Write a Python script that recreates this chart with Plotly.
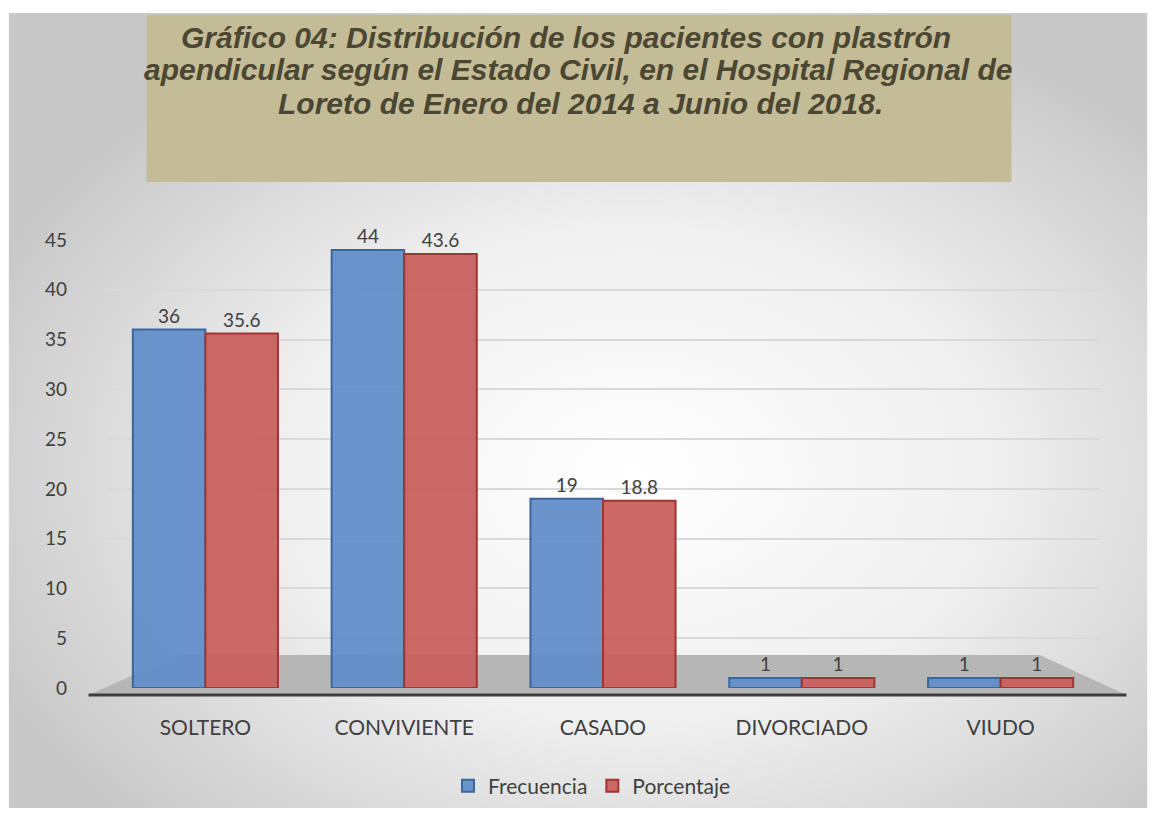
import base64
import plotly.graph_objects as go

# Data
categorias = ['SOLTERO', 'CONVIVIENTE', 'CASADO', 'DIVORCIADO', 'VIUDO']
frecuencia = [36, 44, 19, 1, 1]
porcentaje = [35.6, 43.6, 18.8, 1, 1]
y_ticks = [0, 5, 10, 15, 20, 25, 30, 35, 40, 45]

titulo = [
    'Gráfico 04: Distribución de los pacientes con plastrón',
    'apendicular según el Estado Civil, en el Hospital Regional de',
    'Loreto de Enero del 2014 a Junio del 2018.',
]

W, H = 1156, 818
OFF = 8  # body margin of the html page
# plot area in page pixels
PX0, PX1 = 105.5, 1100.5
PY_TOP, PY_BOT = 240, 688

L = PX0 - OFF
R = W - (PX1 - OFF)
T = PY_TOP - OFF
B = H - (PY_BOT - OFF)


def px_x(x):
    """page pixel column -> paper x"""
    return (x - PX0) / (PX1 - PX0)


def px_y(y):
    """page pixel row -> paper y"""
    return (PY_BOT - y) / (PY_BOT - PY_TOP)


# radial grey background of the chart area as an svg image
svg = (
    '<svg xmlns="http://www.w3.org/2000/svg" width="1140" height="795">'
    '<defs><radialGradient id="g" cx="0.55" cy="0.58" r="0.62">'
    '<stop offset="0" stop-color="#ffffff"/>'
    '<stop offset="0.5" stop-color="#f0f0f0"/>'
    '<stop offset="1" stop-color="#c8c8c8"/>'
    '</radialGradient></defs>'
    '<rect width="1140" height="795" fill="url(#g)"/></svg>'
)
bg_src = 'data:image/svg+xml;base64,' + base64.b64encode(svg.encode()).decode()

fig = go.Figure()

fig.add_trace(go.Bar(
    x=categorias, y=frecuencia, name='Frecuencia',
    marker=dict(color='rgba(98,142,200,0.95)', line=dict(color='#3b679f', width=2)),
    text=frecuencia, textposition='outside',
    textfont=dict(size=19, color='#404040'),
    cliponaxis=False
))
fig.add_trace(go.Bar(
    x=categorias, y=porcentaje, name='Porcentaje',
    marker=dict(color='rgba(201,96,94,0.95)', line=dict(color='#a03535', width=2)),
    text=porcentaje, textposition='outside',
    textfont=dict(size=19, color='#404040'),
    cliponaxis=False
))

# floor of the 3d chart (trapezoid in paper coords)
fx = [px_x(88), px_x(178), px_x(1040), px_x(1127)]
fy = [px_y(695), px_y(655), px_y(655), px_y(695)]
floor_path = 'M {} {} L {} {} L {} {} L {} {} Z'.format(
    fx[0], fy[0], fx[1], fy[1], fx[2], fy[2], fx[3], fy[3])
fig.add_shape(type='path', xref='paper', yref='paper', path=floor_path,
              fillcolor='#b6b6b6', line_width=0, layer='below')

# front edge of the floor (axis line)
fig.add_shape(type='line', xref='paper', yref='paper',
              x0=px_x(88), x1=px_x(1127), y0=px_y(695), y1=px_y(695),
              line=dict(color='#3f3f3f', width=3), layer='above')

# title box
fig.add_shape(type='rect', xref='paper', yref='paper',
              x0=px_x(146), x1=px_x(1012), y0=px_y(182), y1=px_y(15),
              fillcolor='#c4bc96', line_width=0, layer='above')
for linea, xc, yc in zip(titulo, [566, 578, 580], [38, 70, 103]):
    fig.add_annotation(text='<b><i>' + linea + '</i></b>', xref='paper', yref='paper',
                       x=px_x(xc), y=px_y(yc), xanchor='center', yanchor='middle',
                       showarrow=False,
                       font=dict(family='Liberation Sans, Arial', size=30, color='#4b4733'))

fig.add_layout_image(dict(
    source=bg_src, xref='paper', yref='paper',
    x=px_x(8), y=px_y(13), sizex=px_x(1148) - px_x(8), sizey=px_y(13) - px_y(808),
    sizing='stretch', layer='below'
))

fig.update_layout(
    width=W, height=H,
    margin=dict(l=L, r=R, t=T, b=B, pad=0),
    paper_bgcolor='white', plot_bgcolor='rgba(0,0,0,0)',
    font=dict(family='Lato, Open Sans, sans-serif', color='#404040', size=18),
    barmode='group', bargap=0.27, bargroupgap=0,
    showlegend=True,
    legend=dict(orientation='h', x=px_x(592), y=px_y(786), xanchor='center',
                yanchor='middle', font=dict(size=21, color='#404040'),
                bgcolor='rgba(0,0,0,0)'),
)

fig.update_xaxes(
    range=[-0.5, 4.5],
    showline=False, showgrid=False, ticks='',
    tickfont=dict(size=21, color='#404040'),
    ticklabelstandoff=25
)
fig.update_yaxes(
    range=[0, 45], tickvals=y_ticks, showgrid=True, gridcolor='#d9d9d9',
    gridwidth=1.5, zeroline=False, showline=False, ticks='',
    tickfont=dict(size=19, color='#404040'), ticklabelstandoff=38
)

fig.write_html('out.html')
